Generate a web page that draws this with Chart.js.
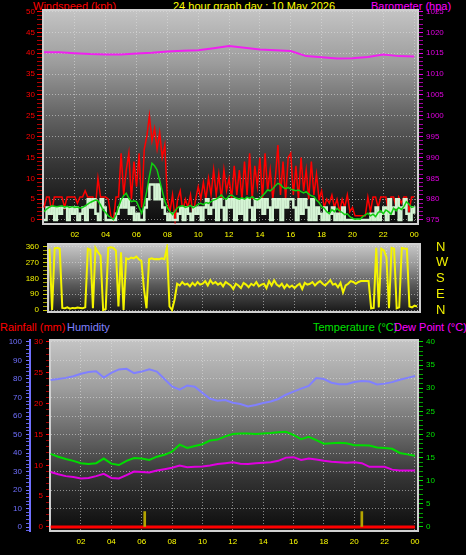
<!DOCTYPE html>
<html>
<head>
<meta charset="utf-8">
<script src="https://cdn.jsdelivr.net/npm/chart.js@4.4.1/dist/chart.umd.min.js"></script>
<style>
  body { margin: 0; background: #000; width: 466px; height: 555px; overflow: hidden; position: relative;
         font-family: "Liberation Sans", Arial, sans-serif; }
  canvas { position: absolute; left: 0; }
  .t { position: absolute; font-size: 11px; line-height: 12px; white-space: nowrap; }
</style>
</head>
<body>
<div class="t" style="left:33px;top:0;color:#ff0000">Windspeed (kph)</div>
<div class="t" style="left:173px;top:0;color:#ffff00">24 hour graph day : 10 May 2026</div>
<div class="t" style="left:371px;top:0;color:#ff00ff">Barometer (hpa)</div>
<div class="t" style="left:0;top:321px;color:#ff0000">Rainfall (mm)</div>
<div class="t" style="left:67px;top:321px;color:#8080ff">Humidity</div>
<div class="t" style="left:313px;top:321px;color:#00e000">Temperature (°C)</div>
<div class="t" style="left:394px;top:321px;color:#ff00ff">Dew Point (°C)</div>

<canvas id="wind" width="466" height="245" style="top:0"></canvas>
<canvas id="dir" width="466" height="82" style="top:238px"></canvas>
<canvas id="temp" width="466" height="221" style="top:334px"></canvas>

<script>
// ---- data (hours from midnight) ----
// wind, 10 minute samples, kph
const gustKph = [
  3, 5.5, 5.5, 2, 5.5, 5.5,   5.5, 5.5, 3, 5.5, 5.5, 5.5,   5.5, 4, 5.5, 5.5, 7, 5.5,
  5.5, 5.5, 3, 10, 5.5, 5.5,  5.5, 5, 1, 0, 5.5, 5.5,       16, 6, 12, 16, 5, 14,
  8, 16, 3, 17, 20, 25,       19, 22, 17, 21, 15, 18,       5, 2, 6, 0, 5, 7,
  2, 5, 3, 6, 1, 5,           8, 5, 9, 5, 10, 6,            12, 6, 11, 5, 12, 7,
  10, 5, 13, 6, 12, 5,        14, 6, 16, 5, 13, 8,          15, 5, 16, 7, 12, 5,
  10, 18, 6, 14, 5, 15,       16, 6, 13, 5, 15, 7,          12, 5, 14, 6, 11, 5,
  7, 3, 5, 4, 6, 3,           5, 2, 5, 3, 6, 2,             3, 1, 1, 1, 1, 1,
  5.5, 2, 5.5, 5.5, 3, 5.5,   5.5, 5.5, 2, 5.5, 5.5, 3,     5.5, 4, 5.5, 5.5, 2, 5.5,
  5.5
];
const avgKph = [
  2.0, 2.6, 3.0, 3.4, 3.3, 3.2,   3.3, 3.4, 3.1, 3.3, 3.0, 3.2,   3.0, 3.1, 2.9, 3.0, 3.4, 3.8,
  4.2, 4.5, 4.8, 4.6, 3.6, 2.4,   1.8, 1.0, 0.6, 0.1, 1.2, 3.2,   4.8, 5.8, 6.4, 5.2, 4.4, 4.6,
  4.4, 3.0, 1.6, 4.0, 7.0, 10.5,  13.6, 13.0, 12.0, 9.5, 7.0, 4.5, 2.9, 2.0, 1.3, 2.2, 3.0, 3.3,
  3.4, 3.0, 3.2, 3.5, 2.9, 3.3,   3.8, 4.0, 3.7, 4.2, 4.0, 4.4,   4.8, 5.0, 5.4, 6.0, 5.2, 5.0,
  5.8, 6.0, 5.5, 5.2, 5.0, 5.3,   5.0, 5.5, 5.2, 5.6, 5.0, 4.8,   5.2, 5.8, 6.5, 7.2, 7.0, 7.5,
  8.2, 8.8, 8.5, 7.8, 7.5, 7.8,   7.4, 7.2, 7.0, 7.2, 6.8, 6.5,   6.8, 6.2, 5.8, 5.6, 4.8, 4.2,
  3.2, 2.8, 2.0, 1.5, 2.5, 2.0,   2.8, 2.2, 1.8, 1.3, 1.5, 0.8,   0.4, 0.2, 0.3, 0.2, 0.8, 1.2,
  1.6, 1.0, 1.4, 0.8, 1.8, 2.2,   1.5, 2.4, 2.0, 1.4, 2.8, 2.2,   3.0, 2.5, 3.2, 4.4, 3.8, 3.0,
  3.2
];
const speedKph = [
  0, 3, 1.5, 3, 0, 3,       1.5, 3, 3, 0, 3, 1.5,     3, 0, 1.5, 3, 0, 5,
  3, 5, 1.5, 0, 5, 3,       0, 0, 0, 0, 1.5, 3,       5, 3, 5, 1.5, 3, 0,
  1.5, 0, 0, 3, 5, 8.5,     8.5, 5, 8.5, 5, 3, 1.5,   0, 1.5, 0, 0, 1.5, 3,
  0, 3, 1.5, 0, 3, 1.5,     3, 0, 3, 5, 1.5, 3,       5, 0, 5, 3, 0, 5,
  3, 5, 0, 5, 1.5, 5,       0, 5, 3, 0, 5, 3,         5, 1.5, 5, 3, 0, 5,
  3, 5, 0, 5, 3, 5,         5, 3, 0, 5, 1.5, 5,       3, 0, 5, 0, 3, 1.5,
  0, 3, 0, 1.5, 3, 0,       1.5, 0, 3, 0, 0, 0,       0, 0, 0, 0, 0, 0,
  0, 1.5, 0, 3, 0, 1.5,     3, 0, 5, 1.5, 3, 5,       0, 3, 5, 1.5, 0, 3,
  1.5
];
// barometer, hourly, hPa
const baroHpa = [
  1015.2, 1015.2, 1015.0, 1014.8, 1014.7, 1014.7, 1014.9, 1015.1, 1015.4, 1015.6,
  1015.7, 1016.2, 1016.7, 1016.3, 1015.9, 1015.7, 1015.5, 1014.3, 1014.0, 1013.7,
  1013.8, 1014.1, 1014.7, 1014.3, 1014.2
];
// wind direction, 10 minute samples, degrees
const windDirDeg = [
  350, 0, 352, 355, 350, 12,      10, 15, 8, 12, 10, 14,          12, 10, 15, 350, 345, 10,
  355, 330, 310, 0, 5, 355,       358, 355, 340, 20, 330, 0,      295, 290, 300, 295, 305, 290,
  280, 120, 10, 290, 295, 290,    292, 290, 295, 290, 355, 20,    0, 60, 150, 140, 160, 145,
  150, 135, 155, 140, 160, 145,   150, 165, 140, 170, 150, 160,   145, 155, 135, 160, 150, 140,
  120, 150, 140, 125, 155, 145,   130, 150, 140, 160, 135, 145,   150, 125, 165, 140, 170, 145,
  135, 150, 125, 145, 130, 140,   125, 140, 150, 120, 155, 145,   150, 160, 140, 155, 165, 150,
  140, 155, 170, 145, 150, 130,   155, 100, 140, 150, 165, 160,   150, 160, 165, 165, 165, 165,
  10, 12, 355, 15, 350, 340,      300, 10, 355, 350, 10, 15,      355, 352, 350, 20, 15, 25,
  20
];
// half hourly
const humidityPct = [
  79.5, 80.0, 80.6, 81.5, 82.8, 83.8, 84.2, 80.8, 83.3, 85.2, 85.5, 83.2, 84.0, 85.3, 84.0, 80.0,
  76.0, 74.2, 76.5, 75.8, 72.5, 69.3, 68.2, 68.6, 67.2, 66.5, 65.2, 66.0, 67.0, 67.8, 69.2, 71.5,
  73.2, 74.8, 76.3, 80.5, 80.0, 78.0, 77.2, 77.2, 78.4, 78.9, 78.6, 77.0, 77.5, 78.3, 79.6, 80.6,
  81.6
];
const tempC = [
  15.8, 15.2, 14.7, 14.3, 13.8, 13.6, 13.8, 14.8, 13.7, 13.4, 14.3, 14.9, 14.8, 14.5, 15.2, 15.6,
  16.3, 17.8, 17.1, 17.5, 17.9, 18.7, 18.9, 19.6, 20.1, 20.2, 20.2, 20.1, 20.2, 20.3, 20.5, 20.6,
  19.9, 19.0, 19.5, 18.8, 18.0, 18.1, 18.2, 18.1, 17.7, 17.7, 17.6, 17.2, 17.1, 16.9, 16.0, 15.7,
  15.4
];
const dewPointC = [
  11.9, 11.4, 11.0, 10.8, 10.5, 10.6, 11.0, 11.5, 10.6, 10.5, 11.2, 12.0, 11.9, 11.8, 12.2, 12.5,
  12.8, 13.3, 12.9, 13.0, 13.1, 13.3, 13.6, 13.8, 14.0, 13.7, 13.6, 13.8, 13.9, 14.0, 14.3, 15.0,
  15.1, 14.5, 14.8, 14.6, 14.3, 14.1, 14.0, 13.9, 14.0, 13.8, 13.0, 13.0, 13.0, 12.4, 12.2, 12.2,
  12.2
];
// rainfall, hourly, mm
const rainMm = [0, 0, 0, 0, 0, 0, 0, 0, 0, 0, 0, 0, 0, 0, 0, 0, 0, 0, 0, 0, 0, 0, 0, 0, 0];
const rainMarkHours = [6.2, 20.5];
const rainMarkMm = [2.5, 2.5];

// ---- axis ticks ----
const hourTicks = [2, 4, 6, 8, 10, 12, 14, 16, 18, 20, 22, 24];
const hourLabels = ['02', '04', '06', '08', '10', '12', '14', '16', '18', '20', '22', '00'];
const windTicks = [0, 5, 10, 15, 20, 25, 30, 35, 40, 45, 50];
const baroTicks = [975, 980, 985, 990, 995, 1000, 1005, 1010, 1015, 1020, 1025];
const dirTicks = [0, 90, 180, 270, 360];
const compassLabels = ['N', 'E', 'S', 'W', 'N'];
const humTicks = [0, 10, 20, 30, 40, 50, 60, 70, 80, 90, 100];
const rainTicks = [0, 5, 10, 15, 20, 25, 30];
const tempTicks = [0, 5, 10, 15, 20, 25, 30, 35, 40];

const FONT = '"Liberation Sans", Arial, sans-serif';
const GRID = 'rgba(225,225,225,0.55)';
const NONE = 'rgba(0,0,0,0)';

const series = (vals, step) => vals.map((v, i) => ({ x: i * step, y: v }));

// gradient plot box
const panelBg = {
  id: 'panelBg',
  beforeDraw(chart, args, opts) {
    const { ctx, chartArea: a } = chart;
    const g = ctx.createLinearGradient(0, a.top, 0, a.bottom);
    opts.stops.forEach(s => g.addColorStop(s[0], s[1]));
    ctx.save();
    ctx.fillStyle = g;
    ctx.fillRect(a.left, a.top, a.width, a.height);
    ctx.restore();
  },
  beforeDatasetsDraw(chart) {
    const { ctx, chartArea: a } = chart;
    ctx.save();
    ctx.strokeStyle = '#d0d0d0';
    ctx.lineWidth = 2;
    ctx.strokeRect(a.left, a.top, a.width, a.height);
    ctx.restore();
  }
};

function yAxis(o) {
  return {
    type: 'linear', position: o.pos, min: o.min, max: o.max, weight: o.weight || 0,
    afterFit: s => { s.width = o.width; s.paddingTop = 0; s.paddingBottom = 0; },
    ticks: {
      stepSize: o.step, includeBounds: false, autoSkip: false, color: o.color, padding: o.pad,
      font: { family: FONT, size: o.size || 8 },
      callback: o.label
    },
    grid: {
      drawOnChartArea: !!o.gridOn, drawTicks: true, tickLength: o.tickLen,
      color: c => (o.gridOn && o.major.includes(c.tick.value)) ? GRID : NONE,
      tickColor: c => o.major.includes(c.tick.value) ? o.tickColor : o.minorColor
    },
    border: o.border || { display: false, dash: [1, 2] }
  };
}

function xAxis(o) {
  return {
    type: 'linear', min: o.min, max: o.max, offset: false,
    afterBuildTicks: s => { s.ticks = hourTicks.map(v => ({ value: v })); },
    afterFit: s => { s.height = o.height; s.paddingLeft = 0; s.paddingRight = 0; },
    ticks: {
      display: o.labels, autoSkip: false, maxRotation: 0, color: '#ffff00', padding: o.pad,
      font: { family: FONT, size: 8 },
      callback: (v, i) => hourLabels[i]
    },
    grid: { color: GRID, drawTicks: false, offset: false },
    border: { display: false, dash: [1, 2] }
  };
}

const common = {
  responsive: false, animation: false, events: [],
  elements: { point: { radius: 0 }, line: { tension: 0, fill: false } }
};

// ---- wind speed + barometer ----
new Chart(document.getElementById('wind'), {
  type: 'line',
  plugins: [panelBg],
  data: {
    datasets: [
      { label: 'Barometer', data: series(baroHpa, 1), yAxisID: 'yb', borderColor: '#f020f0', borderWidth: 2 },
      { label: 'Average', data: series(avgKph, 1 / 6), yAxisID: 'y', borderColor: '#10d010', borderWidth: 1.5 },
      { label: 'Speed', data: series(speedKph, 1 / 6), yAxisID: 'y', borderColor: '#d4f4d4', borderWidth: 2.5, stepped: true },
      { label: 'Gust', data: series(gustKph, 1 / 6), yAxisID: 'y', borderColor: '#ff0000', borderWidth: 1.5 }
    ]
  },
  options: {
    ...common,
    layout: { padding: { top: 10 } },
    plugins: {
      legend: { display: false }, tooltip: { enabled: false },
      panelBg: { stops: [[0, '#c4c4c4'], [0.25, '#9c9c9c'], [0.5, '#626262'], [0.72, '#363636'], [1, '#0c0c0c']] }
    },
    scales: {
      x: xAxis({ min: -0.065, max: 24.25, height: 21, labels: true, pad: 6 }),
      y: yAxis({ pos: 'left', min: -0.96, max: 50.36, step: 1, width: 43, pad: 2, tickLen: 6, gridOn: true,
        color: '#ff0000', tickColor: '#ff0000', minorColor: '#b00000', major: windTicks,
        label: v => windTicks.includes(v) ? String(v) : '' }),
      yb: yAxis({ pos: 'right', min: 974.04, max: 1025.36, step: 1, width: 48, pad: 3, tickLen: 5,
        color: '#e000e0', tickColor: '#e000e0', minorColor: '#a000a0', major: baroTicks,
        label: v => baroTicks.includes(v) ? String(v) : '' })
    }
  }
});

// ---- wind direction ----
new Chart(document.getElementById('dir'), {
  type: 'line',
  plugins: [panelBg],
  data: {
    datasets: [
      { label: 'Direction', data: series(windDirDeg, 1 / 6), yAxisID: 'y', borderColor: '#f4f400', borderWidth: 2 }
    ]
  },
  options: {
    ...common,
    layout: { padding: { top: 6 } },
    plugins: {
      legend: { display: false }, tooltip: { enabled: false },
      panelBg: { stops: [[0, '#c8c8c8'], [0.3, '#9a9a9a'], [0.6, '#5a5a5a'], [1, '#181818']] }
    },
    scales: {
      x: xAxis({ min: -0.1, max: 24.19, height: 8, labels: false, pad: 0 }),
      y: yAxis({ pos: 'left', min: -11.4, max: 377.1, step: 22.5, width: 48, pad: 4, tickLen: 5, gridOn: true,
        color: '#f0f000', tickColor: '#c8c800', minorColor: '#a0a000', major: dirTicks,
        label: v => dirTicks.includes(v) ? String(v) : '' }),
      y2: yAxis({ pos: 'right', min: -11.4, max: 377.1, step: 90, width: 46, pad: 0, tickLen: 16, size: 13,
        color: '#f0f000', tickColor: NONE, minorColor: NONE, major: dirTicks,
        label: v => compassLabels[dirTicks.indexOf(v)] })
    }
  }
});

// ---- temperature / humidity / rain ----
new Chart(document.getElementById('temp'), {
  type: 'line',
  plugins: [panelBg],
  data: {
    datasets: [
      { type: 'bar', label: 'Rain marks', data: rainMarkHours.map((h, i) => ({ x: h, y: rainMarkMm[i] })),
        yAxisID: 'yr', backgroundColor: '#b4a400', barThickness: 2 },
      { label: 'Rainfall', data: series(rainMm, 1), yAxisID: 'yr', borderColor: '#ff0000', borderWidth: 3 },
      { label: 'Temperature', data: series(tempC, 0.5), yAxisID: 'yt', borderColor: '#00dd00', borderWidth: 2 },
      { label: 'Dew Point', data: series(dewPointC, 0.5), yAxisID: 'yt', borderColor: '#e000e0', borderWidth: 2 },
      { label: 'Humidity', data: series(humidityPct, 0.5), yAxisID: 'yh', borderColor: '#8080ff', borderWidth: 2 }
    ]
  },
  options: {
    ...common,
    layout: { padding: { top: 6 } },
    plugins: {
      legend: { display: false }, tooltip: { enabled: false },
      panelBg: { stops: [[0, '#c4c4c4'], [0.25, '#9e9e9e'], [0.5, '#666666'], [0.72, '#343434'], [1, '#0c0c0c']] }
    },
    scales: {
      x: xAxis({ min: -0.04, max: 24.2, height: 24, labels: true, pad: 6 }),
      yh: yAxis({ pos: 'left', weight: 1, min: -2.16, max: 101.08, step: 2, width: 30, pad: 4, tickLen: 4, gridOn: true,
        color: '#7070ff', tickColor: '#7070ff', minorColor: '#6060e0', major: humTicks,
        label: v => humTicks.includes(v) ? String(v) : '',
        border: { display: true, color: '#7070ff', width: 2, dash: [1, 2] } }),
      yr: yAxis({ pos: 'left', weight: 0, min: -0.65, max: 30.32, step: 1, width: 20, pad: 3, tickLen: 4,
        color: '#ff0000', tickColor: '#ff0000', minorColor: '#a00000', major: rainTicks,
        label: v => rainTicks.includes(v) ? String(v) : '' }),
      yt: yAxis({ pos: 'right', min: -0.865, max: 40.43, step: 1, width: 48, pad: 3, tickLen: 5,
        color: '#00e000', tickColor: '#00e000', minorColor: '#00a000', major: tempTicks,
        label: v => tempTicks.includes(v) ? String(v) : '' })
    }
  }
});
</script>
</body>
</html>
